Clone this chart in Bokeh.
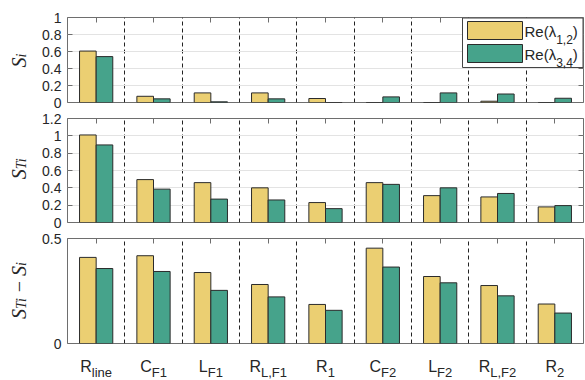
import math
from bokeh.plotting import figure
from bokeh.models import Range1d, FixedTicker, LinearAxis, BoxAnnotation, Label, ColumnDataSource
from bokeh.layouts import column, row
from bokeh.transform import dodge
from bokeh.core.properties import value
from bokeh.embed import file_html
from bokeh.resources import INLINE

# ---------------- data ----------------
cat_main = ["R", "C", "L", "R", "R", "C", "L", "R", "R"]
cat_sub = ["line", "F1", "F1", "L,F1", "1", "F2", "F2", "L,F2", "2"]

si_re12 = [0.605, 0.073, 0.113, 0.113, 0.047, 0.0, 0.0, 0.015, 0.0]
si_re34 = [0.54, 0.043, 0.008, 0.043, 0.0, 0.066, 0.113, 0.10, 0.05]
sti_re12 = [1.01, 0.495, 0.46, 0.40, 0.23, 0.46, 0.31, 0.295, 0.18]
sti_re34 = [0.895, 0.385, 0.27, 0.26, 0.16, 0.44, 0.40, 0.335, 0.195]
diff_re12 = [0.41, 0.418, 0.338, 0.281, 0.186, 0.454, 0.319, 0.276, 0.188]
diff_re34 = [0.357, 0.343, 0.253, 0.222, 0.158, 0.364, 0.289, 0.227, 0.145]

y1_ticks = [0, 0.2, 0.4, 0.6, 0.8, 1]
y1_labels = ["0", "0.2", "0.4", "0.6", "0.8", "1"]
y2_ticks = [0, 0.2, 0.4, 0.6, 0.8, 1, 1.2]
y2_labels = ["0", "0.2", "0.4", "0.6", "0.8", "1", "1.2"]
y3_ticks = [0, 0.5]
y3_labels = ["0", "0.5"]

legend_main = ["Re(λ", "Re(λ"]
legend_sub = ["1,2", "3,4"]

# ---------------- style ----------------
YELLOW = "#EBCF72"
GREEN = "#46A38B"
EDGE = "#2b2b2b"
FRAME = "#6e6e6e"
TXT = "#262626"
SANS = "Liberation Sans"
SERIF = "Liberation Serif"
STRIP = 34          # width of the y-label strip
MW = 551            # width of the main figures
LB, RB = 33, 2      # left / right borders of the main figures
TOTAL_H = 380

SANS_W = {'R': .722, 'C': .722, 'L': .556, 'F': .611, 'l': .222, 'i': .222, 'n': .556,
          'e': .556, ',': .278, '1': .556, '2': .556, '3': .556, '4': .556, '(': .333,
          ')': .333, 'λ': .5}
SERIF_W = {'S': .5, 'T': .556, 'i': .278, ' ': .25, '−': .564}


def tw(s, size, table):
    return sum(table.get(c, 0.55) for c in s) * size


n = len(cat_main)
xs = list(range(1, n + 1))
seps = [i + 0.5 for i in xs[:-1]]
xr = Range1d(0.5, n + 0.5)


def hidden_axis(ticks):
    return LinearAxis(ticker=FixedTicker(ticks=ticks), major_tick_in=5, major_tick_out=0,
                      minor_tick_line_color=None, axis_line_color=None,
                      major_tick_line_color=FRAME, major_label_text_font_size="0px",
                      major_label_text_color=None, major_label_standoff=0)


def make_fig(h, top, bottom, ymax, yticks, ylabels, a, b):
    p = figure(width=MW, height=h, x_range=xr, y_range=Range1d(0, ymax),
               output_backend="svg", toolbar_location=None,
               x_axis_location=None, y_axis_location=None,
               min_border_left=LB, min_border_right=RB,
               min_border_top=top, min_border_bottom=bottom)
    p.background_fill_color = "white"
    p.border_fill_color = "white"
    p.outline_line_color = FRAME
    p.outline_line_width = 1
    p.xgrid.ticker = FixedTicker(ticks=seps)
    p.xgrid.grid_line_color = "#222222"
    p.xgrid.grid_line_dash = "4 3"
    p.xgrid.grid_line_width = 1
    p.ygrid.ticker = FixedTicker(ticks=yticks)
    p.ygrid.grid_line_color = "#e3e3e3"
    p.ygrid.grid_line_width = 1

    over = {t: l for t, l in zip(yticks, ylabels)}
    left = LinearAxis(ticker=FixedTicker(ticks=yticks), major_label_overrides=over,
                      major_tick_in=5, major_tick_out=0, minor_tick_line_color=None,
                      axis_line_color=None, major_tick_line_color=FRAME,
                      major_label_text_font=SANS, major_label_text_font_size="14px",
                      major_label_text_color=TXT, major_label_standoff=6)
    p.add_layout(left, "left")
    p.add_layout(hidden_axis(yticks), "right")
    p.add_layout(hidden_axis(xs), "above")

    src = ColumnDataSource(dict(x=xs, a=a, b=b))
    p.vbar(x=dodge("x", -0.145, range=p.x_range), top="a", width=0.29, source=src,
           fill_color=YELLOW, line_color=EDGE, line_width=1)
    p.vbar(x=dodge("x", 0.145, range=p.x_range), top="b", width=0.29, source=src,
           fill_color=GREEN, line_color=EDGE, line_width=1)
    return p


# frames: p1 17..102, p2 118..222, p3 238..343
p1 = make_fig(110, 17, 8, 1, y1_ticks, y1_labels, si_re12, si_re34)
p2 = make_fig(120, 8, 8, 1.2, y2_ticks, y2_labels, sti_re12, sti_re34)
p3 = make_fig(122, 8, 9, 0.5, y3_ticks, y3_labels, diff_re12, diff_re34)

# ---------------- x tick labels (with subscripts) ----------------
PB_H = 28
pb = figure(width=MW, height=PB_H, x_range=xr, y_range=Range1d(0, PB_H),
            output_backend="svg", toolbar_location=None,
            x_axis_location=None, y_axis_location=None,
            min_border_left=LB, min_border_right=RB, min_border_top=0, min_border_bottom=0)
pb.outline_line_color = None
pb.grid.visible = False
MF, SF = 16, 13
wm = [tw(m, MF, SANS_W) for m in cat_main]
ws = [tw(s, SF, SANS_W) for s in cat_sub]
off_m = [-(a + b) / 2 for a, b in zip(wm, ws)]
off_s = [o + a for o, a in zip(off_m, wm)]
pb.text(x=xs, y=[14] * n, text=cat_main, x_offset=off_m, text_font=value(SANS),
        text_font_size=value(f"{MF}px"), text_color=TXT, text_align="left",
        text_baseline="alphabetic")
pb.text(x=xs, y=[8] * n, text=cat_sub, x_offset=off_s, text_font=value(SANS),
        text_font_size=value(f"{SF}px"), text_color=TXT, text_align="left",
        text_baseline="alphabetic")

# ---------------- y labels strip ----------------
pl = figure(width=STRIP, height=TOTAL_H, x_range=Range1d(0, STRIP), y_range=Range1d(0, TOTAL_H),
            output_backend="svg", toolbar_location=None,
            x_axis_location=None, y_axis_location=None, min_border=0)
pl.outline_line_color = None
pl.grid.visible = False

YM, YS = 20, 14


def ylabel(pieces, center, xb=18, shift=3):
    # pieces: (text, size, is_sub, italic, extra_gap_after)
    total = sum(tw(t, s, SERIF_W) + g for t, s, sub, it, g in pieces)
    y = center - total / 2
    for t, s, sub, it, g in pieces:
        pl.text(x=[xb + (shift if sub else 0)], y=[y], text=[t], angle=math.pi / 2,
                text_font=value(SERIF), text_font_size=value(f"{s}px"),
                text_font_style="italic" if it else "normal", text_color=TXT,
                text_align="left", text_baseline="alphabetic")
        y += tw(t, s, SERIF_W) + g


# centers (strip y measured up from the page bottom)
ylabel([("S", YM, False, True, 0), ("i", YS, True, True, 0)], TOTAL_H - 60)
ylabel([("S", YM, False, True, 0), ("Ti", YS, True, True, 0)], TOTAL_H - 168)
ylabel([("S", YM, False, True, 0), ("Ti", YS, True, True, 5), ("−", YM, False, False, 5),
        ("S", YM, False, True, 0), ("i", YS, True, True, 0)], TOTAL_H - 290)

# ---------------- legend (manual, for subscripts) ----------------
p1.add_layout(BoxAnnotation(left=395, right=515.5, bottom=35, top=84.5,
                            left_units="screen", right_units="screen",
                            top_units="screen", bottom_units="screen",
                            fill_color="white", fill_alpha=1, line_color="#444444",
                            line_width=1, line_alpha=1))
sw = [(81, 63, YELLOW), (58, 40, GREEN)]
base = [(71, 63), (48, 40)]
for k in range(2):
    t, b_, col = sw[k]
    p1.add_layout(BoxAnnotation(left=400, right=455, top=t, bottom=b_,
                                left_units="screen", right_units="screen",
                                top_units="screen", bottom_units="screen",
                                fill_color=col, fill_alpha=1, line_color=EDGE,
                                line_width=1, line_alpha=1))
    xm = 457
    w1 = tw(legend_main[k], 15, SANS_W)
    w2 = tw(legend_sub[k], 12, SANS_W)
    p1.add_layout(Label(x=xm, y=base[k][0], x_units="screen", y_units="screen",
                        text=legend_main[k], text_font=SANS, text_font_size="15px",
                        text_color=TXT, text_align="left", text_baseline="alphabetic"))
    p1.add_layout(Label(x=xm + w1, y=base[k][1], x_units="screen", y_units="screen",
                        text=legend_sub[k], text_font=SANS, text_font_size="12px",
                        text_color=TXT, text_align="left", text_baseline="alphabetic"))
    p1.add_layout(Label(x=xm + w1 + w2, y=base[k][0], x_units="screen", y_units="screen",
                        text=")", text_font=SANS, text_font_size="15px",
                        text_color=TXT, text_align="left", text_baseline="alphabetic"))

layout = row(pl, column(p1, p2, p3, pb, spacing=0), spacing=0)
open("out.html", "w").write(file_html(layout, INLINE))
